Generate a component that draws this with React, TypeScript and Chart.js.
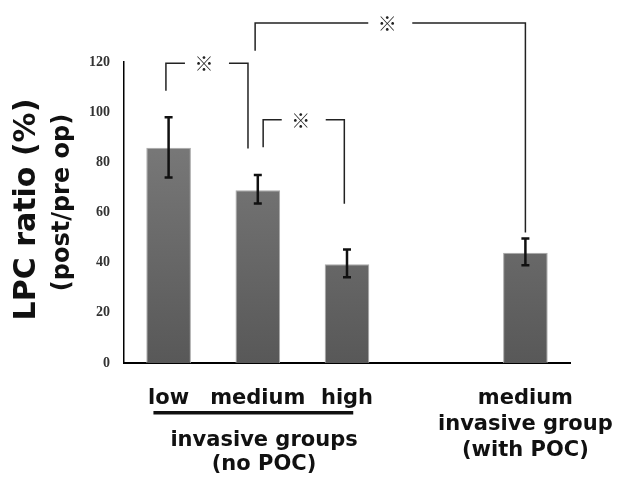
import React, { useEffect, useRef } from 'react';
import { Chart, registerables } from 'chart.js';

Chart.register(...registerables);

const categories = ['low', 'medium', 'high', '', 'medium (with POC)'];
const xTickLabels = ['low', 'medium', 'high', '', ''];
const ratioValues = [85.8, 68.9, 39.4, null, 44.0];
const errorUpper = [98.0, 75.0, 45.2, null, 49.6];
const errorLower = [74.0, 63.6, 34.2, null, 39.0];
const yMin = 0;
const yMax = 120;
const yStep = 20;
const yTitle = 'LPC ratio (%)';
const ySubTitle = '(post/pre op)';
const groupNoPocLines = ['invasive groups', '(no POC)'];
const groupPocLines = ['medium', 'invasive group', '(with POC)'];
const sigMark = '※';
// brackets: category index + offset (in category widths), y values in data units
const brackets = [
  { from: 0, fromOff: -0.03, to: 1, toOff: -0.11, top: 119.5, fromEnd: 108.5, toEnd: 85.5 },
  { from: 1, fromOff: 0.06, to: 2, toOff: -0.03, top: 97.0, fromEnd: 86.0, toEnd: 63.5 },
  { from: 1, fromOff: -0.03, to: 4, toOff: 0.0, top: 135.5, fromEnd: 124.5, toEnd: 52.0 },
];

const labelFont = 'bold 21px "DejaVu Sans"';

const annotationsPlugin = {
  id: 'annotations',
  afterDraw(chart: any) {
    const { ctx, chartArea, scales } = chart;
    const x = scales.x;
    const y = scales.y;
    const catW = x.getPixelForValue(1) - x.getPixelForValue(0);
    ctx.save();

    // error bars
    ctx.strokeStyle = '#111';
    ctx.lineWidth = 2.5;
    for (let i = 0; i < ratioValues.length; i++) {
      if (errorUpper[i] == null || errorLower[i] == null) continue;
      const cx = x.getPixelForValue(i);
      const yt = y.getPixelForValue(errorUpper[i] as number);
      const yb = y.getPixelForValue(errorLower[i] as number);
      ctx.beginPath();
      ctx.moveTo(cx, yt);
      ctx.lineTo(cx, yb);
      ctx.moveTo(cx - 4, yt);
      ctx.lineTo(cx + 4, yt);
      ctx.moveTo(cx - 4, yb);
      ctx.lineTo(cx + 4, yb);
      ctx.stroke();
    }

    // significance brackets
    ctx.strokeStyle = '#222';
    ctx.lineWidth = 1.5;
    ctx.fillStyle = '#222';
    ctx.font = '19px "Noto Sans CJK JP"';
    ctx.textAlign = 'center';
    ctx.textBaseline = 'middle';
    for (const b of brackets) {
      const x1 = x.getPixelForValue(b.from) + b.fromOff * catW;
      const x2 = x.getPixelForValue(b.to) + b.toOff * catW;
      const yt = y.getPixelForValue(b.top);
      const y1 = y.getPixelForValue(b.fromEnd);
      const y2 = y.getPixelForValue(b.toEnd);
      const mid = (x1 + x2) / 2;
      const gap = 22;
      ctx.beginPath();
      ctx.moveTo(x1, y1);
      ctx.lineTo(x1, yt);
      ctx.lineTo(mid - gap, yt);
      ctx.moveTo(mid + gap, yt);
      ctx.lineTo(x2, yt);
      ctx.lineTo(x2, y2);
      ctx.stroke();
      ctx.fillText(sigMark, mid - 3, yt + 1);
    }

    // category labels
    ctx.fillStyle = '#111';
    ctx.font = labelFont;
    ctx.textAlign = 'center';
    ctx.textBaseline = 'alphabetic';
    const base = chartArea.bottom + 41;
    for (let i = 0; i < xTickLabels.length; i++) {
      if (!xTickLabels[i]) continue;
      ctx.fillText(xTickLabels[i], x.getPixelForValue(i), base);
    }
    // underline for group
    const ulStart = x.getPixelForValue(0) - 0.17 * catW;
    const ulEnd = x.getPixelForValue(2) + 0.07 * catW;
    ctx.fillRect(ulStart, chartArea.bottom + 48, ulEnd - ulStart, 3.5);
    const gx = x.getPixelForValue(1) + 0.07 * catW;
    groupNoPocLines.forEach((t, k) => ctx.fillText(t, gx, chartArea.bottom + 83 + k * 24));
    const px = x.getPixelForValue(4);
    groupPocLines.forEach((t, k) => ctx.fillText(t, px, chartArea.bottom + 41 + k * 26));

    // y titles
    const cy = (chartArea.top + chartArea.bottom) / 2;
    ctx.save();
    ctx.translate(27, cy - 3);
    ctx.rotate(-Math.PI / 2);
    ctx.font = 'bold 30px "DejaVu Sans"';
    ctx.textBaseline = 'middle';
    ctx.fillText(yTitle, 0, 0);
    ctx.restore();
    ctx.save();
    ctx.translate(63, cy - 10);
    ctx.rotate(-Math.PI / 2);
    ctx.font = 'bold 24px "DejaVu Sans"';
    ctx.textBaseline = 'middle';
    ctx.fillText(ySubTitle, 0, 0);
    ctx.restore();

    ctx.restore();
  },
};

export default function App() {
  const canvasRef = useRef<HTMLCanvasElement | null>(null);
  useEffect(() => {
    const canvas = canvasRef.current;
    if (!canvas) return;
    const chart = new Chart(canvas, {
      type: 'bar',
      data: {
        labels: categories,
        datasets: [
          {
            data: ratioValues as any,
            backgroundColor: (c: any) => {
              const area = c.chart.chartArea;
              if (!area) return '#6a6a6a';
              const g = c.chart.ctx.createLinearGradient(0, area.top, 0, area.bottom);
              g.addColorStop(0, '#848484');
              g.addColorStop(1, '#585858');
              return g;
            },
            borderColor: '#a8a8a8',
            borderWidth: 1,
            categoryPercentage: 1,
            barPercentage: 0.5,
          },
        ],
      },
      options: {
        animation: false,
        responsive: true,
        maintainAspectRatio: false,
        layout: { padding: { top: 62, right: 48, bottom: 114, left: 0 } },
        plugins: { legend: { display: false }, tooltip: { enabled: false } },
        scales: {
          x: {
            grid: { display: false, drawTicks: false },
            border: { display: true, color: '#000', width: 2 },
            ticks: { display: false },
            afterFit: (s: any) => { s.height = 0; },
          },
          y: {
            min: yMin,
            max: yMax,
            grid: { display: false, drawTicks: false },
            border: { display: true, color: '#000', width: 1.5 },
            ticks: {
              stepSize: yStep,
              padding: 14,
              color: '#333',
              font: { family: '"Liberation Serif"', size: 14, weight: 'bold' },
            },
            afterFit: (s: any) => { s.width = 124; },
          },
        },
      },
      plugins: [annotationsPlugin],
    });
    return () => chart.destroy();
  }, []);
  return (
    <div style={{ position: 'fixed', left: 0, top: 0, width: 618, height: 477, background: '#fff' }}>
      <canvas ref={canvasRef} />
    </div>
  );
}
